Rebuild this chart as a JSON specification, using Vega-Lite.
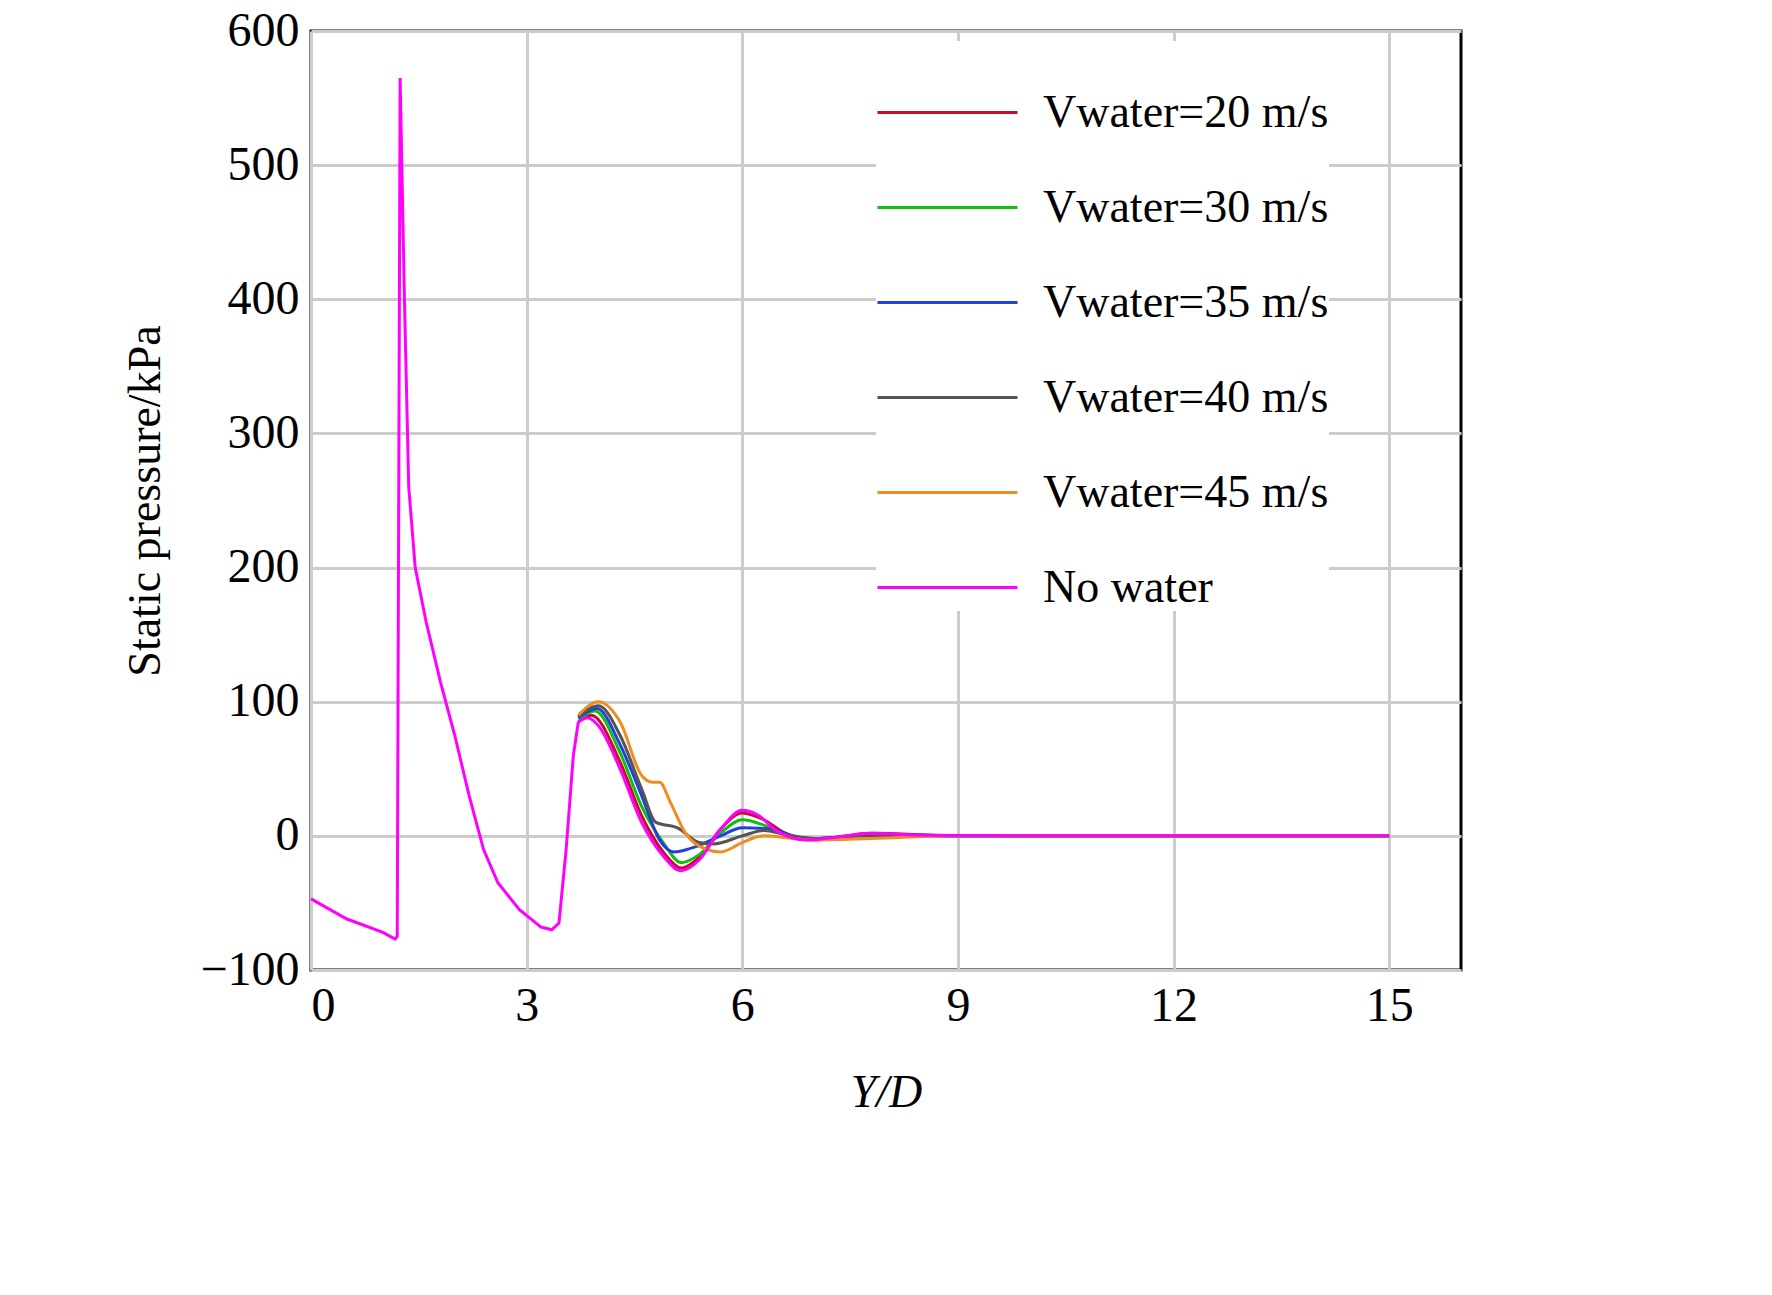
{
  "$schema": "https://vega.github.io/schema/vega-lite/v6.json",
  "width": 1150,
  "height": 939,
  "autosize": "none",
  "padding": {"left": 311, "top": 31, "right": 311, "bottom": 325},
  "background": "white",
  "config": {
    "font": "Liberation Serif",
    "view": {"stroke": "black", "strokeWidth": 3},
    "axis": {"labelFont": "Liberation Serif", "titleFont": "Liberation Serif", "labelFontSize": 48, "titleFontSize": 46, "labelColor": "black", "titleColor": "black", "titleFontWeight": "normal", "gridColor": "#cccccc", "gridWidth": 3, "domain": false, "ticks": false, "labelPadding": 12}
  },
  "datasets": {
    "common": [
      {"x": 0, "y": -47}, {"x": 0.5, "y": -62}, {"x": 1.0, "y": -72}, {"x": 1.17, "y": -77}, {"x": 1.2, "y": -75},
      {"x": 1.24, "y": 565}, {"x": 1.3, "y": 400}, {"x": 1.36, "y": 260}, {"x": 1.45, "y": 200}, {"x": 1.6, "y": 160},
      {"x": 1.8, "y": 115}, {"x": 2.0, "y": 75}, {"x": 2.2, "y": 30}, {"x": 2.4, "y": -10}, {"x": 2.6, "y": -35},
      {"x": 2.9, "y": -55}, {"x": 3.2, "y": -68}, {"x": 3.35, "y": -70}, {"x": 3.45, "y": -65}, {"x": 3.55, "y": -10},
      {"x": 3.65, "y": 60}, {"x": 3.72, "y": 85}
    ]
  },
  "data": {"values": [
    {"s": "Vwater=20 m/s", "x": 3.72, "y": 85}, {"s": "Vwater=20 m/s", "x": 3.9, "y": 90}, {"s": "Vwater=20 m/s", "x": 4.3, "y": 55}, {"s": "Vwater=20 m/s", "x": 4.6, "y": 15}, {"s": "Vwater=20 m/s", "x": 4.9, "y": -12}, {"s": "Vwater=20 m/s", "x": 5.15, "y": -24}, {"s": "Vwater=20 m/s", "x": 5.4, "y": -16}, {"s": "Vwater=20 m/s", "x": 5.7, "y": 5}, {"s": "Vwater=20 m/s", "x": 6.0, "y": 17}, {"s": "Vwater=20 m/s", "x": 6.3, "y": 12}, {"s": "Vwater=20 m/s", "x": 6.6, "y": 2}, {"s": "Vwater=20 m/s", "x": 7.0, "y": -3}, {"s": "Vwater=20 m/s", "x": 7.8, "y": 2}, {"s": "Vwater=20 m/s", "x": 9, "y": 0}, {"s": "Vwater=20 m/s", "x": 15, "y": 0},
    {"s": "Vwater=30 m/s", "x": 3.72, "y": 87}, {"s": "Vwater=30 m/s", "x": 3.95, "y": 93}, {"s": "Vwater=30 m/s", "x": 4.3, "y": 62}, {"s": "Vwater=30 m/s", "x": 4.6, "y": 22}, {"s": "Vwater=30 m/s", "x": 4.9, "y": -5}, {"s": "Vwater=30 m/s", "x": 5.15, "y": -20}, {"s": "Vwater=30 m/s", "x": 5.4, "y": -14}, {"s": "Vwater=30 m/s", "x": 5.7, "y": 2}, {"s": "Vwater=30 m/s", "x": 6.0, "y": 12}, {"s": "Vwater=30 m/s", "x": 6.3, "y": 8}, {"s": "Vwater=30 m/s", "x": 6.6, "y": 1}, {"s": "Vwater=30 m/s", "x": 7.0, "y": -2}, {"s": "Vwater=30 m/s", "x": 7.8, "y": 1}, {"s": "Vwater=30 m/s", "x": 9, "y": 0}, {"s": "Vwater=30 m/s", "x": 15, "y": 0},
    {"s": "Vwater=35 m/s", "x": 3.72, "y": 88}, {"s": "Vwater=35 m/s", "x": 3.98, "y": 95}, {"s": "Vwater=35 m/s", "x": 4.3, "y": 68}, {"s": "Vwater=35 m/s", "x": 4.6, "y": 30}, {"s": "Vwater=35 m/s", "x": 4.85, "y": -3}, {"s": "Vwater=35 m/s", "x": 5.05, "y": -12}, {"s": "Vwater=35 m/s", "x": 5.3, "y": -9}, {"s": "Vwater=35 m/s", "x": 5.7, "y": 0}, {"s": "Vwater=35 m/s", "x": 6.0, "y": 6}, {"s": "Vwater=35 m/s", "x": 6.4, "y": 5}, {"s": "Vwater=35 m/s", "x": 6.7, "y": 0}, {"s": "Vwater=35 m/s", "x": 7.0, "y": -2}, {"s": "Vwater=35 m/s", "x": 7.8, "y": 1}, {"s": "Vwater=35 m/s", "x": 9, "y": 0}, {"s": "Vwater=35 m/s", "x": 15, "y": 0},
    {"s": "Vwater=40 m/s", "x": 3.72, "y": 89}, {"s": "Vwater=40 m/s", "x": 4.0, "y": 97}, {"s": "Vwater=40 m/s", "x": 4.3, "y": 75}, {"s": "Vwater=40 m/s", "x": 4.6, "y": 35}, {"s": "Vwater=40 m/s", "x": 4.8, "y": 10}, {"s": "Vwater=40 m/s", "x": 5.1, "y": 6}, {"s": "Vwater=40 m/s", "x": 5.4, "y": -5}, {"s": "Vwater=40 m/s", "x": 5.6, "y": -6}, {"s": "Vwater=40 m/s", "x": 6.0, "y": 0}, {"s": "Vwater=40 m/s", "x": 6.3, "y": 4}, {"s": "Vwater=40 m/s", "x": 6.6, "y": 1}, {"s": "Vwater=40 m/s", "x": 7.0, "y": -2}, {"s": "Vwater=40 m/s", "x": 7.8, "y": 0}, {"s": "Vwater=40 m/s", "x": 9, "y": 0}, {"s": "Vwater=40 m/s", "x": 15, "y": 0},
    {"s": "Vwater=45 m/s", "x": 3.72, "y": 90}, {"s": "Vwater=45 m/s", "x": 4.0, "y": 100}, {"s": "Vwater=45 m/s", "x": 4.3, "y": 85}, {"s": "Vwater=45 m/s", "x": 4.6, "y": 45}, {"s": "Vwater=45 m/s", "x": 4.75, "y": 40}, {"s": "Vwater=45 m/s", "x": 4.85, "y": 40}, {"s": "Vwater=45 m/s", "x": 5.0, "y": 25}, {"s": "Vwater=45 m/s", "x": 5.2, "y": 3}, {"s": "Vwater=45 m/s", "x": 5.5, "y": -10}, {"s": "Vwater=45 m/s", "x": 5.7, "y": -12}, {"s": "Vwater=45 m/s", "x": 6.0, "y": -5}, {"s": "Vwater=45 m/s", "x": 6.3, "y": 0}, {"s": "Vwater=45 m/s", "x": 6.7, "y": -2}, {"s": "Vwater=45 m/s", "x": 7.0, "y": -3}, {"s": "Vwater=45 m/s", "x": 7.8, "y": -2}, {"s": "Vwater=45 m/s", "x": 9, "y": 0}, {"s": "Vwater=45 m/s", "x": 15, "y": 0},
    {"s": "No water", "x": 3.72, "y": 85}, {"s": "No water", "x": 3.85, "y": 88}, {"s": "No water", "x": 4.0, "y": 82}, {"s": "No water", "x": 4.3, "y": 50}, {"s": "No water", "x": 4.6, "y": 10}, {"s": "No water", "x": 4.9, "y": -15}, {"s": "No water", "x": 5.15, "y": -26}, {"s": "No water", "x": 5.4, "y": -18}, {"s": "No water", "x": 5.7, "y": 5}, {"s": "No water", "x": 6.0, "y": 19}, {"s": "No water", "x": 6.2, "y": 16}, {"s": "No water", "x": 6.5, "y": 3}, {"s": "No water", "x": 6.9, "y": -3}, {"s": "No water", "x": 7.3, "y": -1}, {"s": "No water", "x": 7.8, "y": 2}, {"s": "No water", "x": 8.5, "y": 0.5}, {"s": "No water", "x": 10, "y": 0}, {"s": "No water", "x": 15, "y": 0}
  ]},
  "layer": [
    {
      "data": {"name": "common"},
      "mark": {"type": "line", "color": "#ff00ff", "strokeWidth": 3},
      "encoding": {
        "x": {"field": "x", "type": "quantitative"},
        "y": {"field": "y", "type": "quantitative"}
      }
    },
    {
      "mark": {"type": "line", "strokeWidth": 3, "interpolate": "monotone"},
      "encoding": {
        "x": {"field": "x", "type": "quantitative", "scale": {"domain": [0, 15]}, "axis": {"values": [0, 3, 6, 9, 12, 15], "format": "d", "title": "Y/D", "titleFontStyle": "italic", "titlePadding": 40}},
        "y": {"field": "y", "type": "quantitative", "scale": {"domain": [-100, 600]}, "axis": {"values": [-100, 0, 100, 200, 300, 400, 500, 600], "title": "Static pressure/kPa", "titlePadding": 30, "labelExpr": "replace(datum.label, '-', '\u2212')"}},
        "color": {"field": "s", "type": "nominal",
          "scale": {"domain": ["Vwater=20 m/s", "Vwater=30 m/s", "Vwater=35 m/s", "Vwater=40 m/s", "Vwater=45 m/s", "No water"], "range": ["#c0102a", "#10c010", "#2040e0", "#555555", "#f08c20", "#ff00ff"]},
          "legend": {"title": null, "orient": "none", "legendX": 565, "legendY": 10, "symbolType": "stroke", "symbolSize": 19600, "symbolStrokeWidth": 3, "labelFontSize": 46, "labelFont": "Liberation Serif", "labelColor": "black", "labelLimit": 0, "rowPadding": -68, "labelOffset": 24, "fillColor": "white"}
        }
      }
    }
  ]
}
